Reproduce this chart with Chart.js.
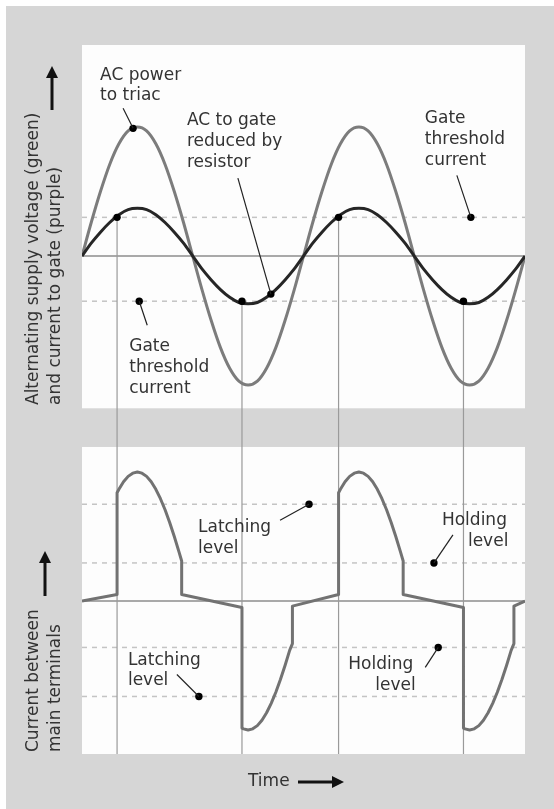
<!DOCTYPE html>
<html>
<head>
<meta charset="utf-8">
<script src="https://cdn.jsdelivr.net/npm/chart.js@4.4.1/dist/chart.umd.min.js"></script>
<style>
  html, body { margin: 0; padding: 0; background: #d6d6d6; }
  canvas { display: block; }
</style>
</head>
<body>
<canvas id="triacChart" width="554" height="809"></canvas>
<script>
// Eje de tiempo en grados (dos ciclos)
const degrees = [0, 15, 30, 45, 60, 75, 90, 105, 120, 135, 150, 165, 180, 195, 210, 225, 240, 255, 270, 285, 300, 315, 330, 345, 360,
    375, 390, 405, 420, 435, 450, 465, 480, 495, 510, 525, 540, 555, 570, 585, 600, 615, 630, 645, 660, 675, 690, 705, 720];

// Tensión de alimentación (curva gris) y corriente de puerta (curva oscura)
const supplyVoltage = [0, 26, 50, 71, 87, 97, 100, 97, 87, 71, 50, 26, 0, -26, -50, -71, -87, -97, -100, -97, -87, -71, -50, -26, 0,
    26, 50, 71, 87, 97, 100, 97, 87, 71, 50, 26, 0, -26, -50, -71, -87, -97, -100, -97, -87, -71, -50, -26, 0];
const gateCurrent = [0, 10, 18.5, 26, 32, 36, 37, 36, 32, 26, 18.5, 10, 0, -10, -18.5, -26, -32, -36, -37, -36, -32, -26, -18.5, -10, 0,
    10, 18.5, 26, 32, 36, 37, 36, 32, 26, 18.5, 10, 0, -10, -18.5, -26, -32, -36, -37, -36, -32, -26, -18.5, -10, 0];

// Corriente entre terminales principales
const terminalDeg = [0, 57, 57, 60, 67.5, 75, 82.5, 90, 97.5, 105, 112.5, 120, 127.5, 135, 142.5, 150, 157.5, 162, 162,
    260, 260, 262.5, 270, 277.5, 285, 292.5, 300, 307.5, 315, 322.5, 330, 337.5, 342, 342,
    417, 417, 420, 427.5, 435, 442.5, 450, 457.5, 465, 472.5, 480, 487.5, 495, 502.5, 510, 517.5, 522, 522,
    620, 620, 622.5, 630, 637.5, 645, 652.5, 660, 667.5, 675, 682.5, 690, 697.5, 702, 702, 720];
const terminalCurrent = [0, 5, 83.9, 86.6, 92.4, 96.6, 99.1, 100, 99.1, 96.6, 92.4, 86.6, 79.3, 70.7, 60.9, 50, 38.3, 31, 5,
    -5, -98.5, -99.1, -100, -99.1, -96.6, -92.4, -86.6, -79.3, -70.7, -60.9, -50, -38.3, -33, -4,
    5, 83.9, 86.6, 92.4, 96.6, 99.1, 100, 99.1, 96.6, 92.4, 86.6, 79.3, 70.7, 60.9, 50, 38.3, 31, 5,
    -5, -98.5, -99.1, -100, -99.1, -96.6, -92.4, -86.6, -79.3, -70.7, -60.9, -50, -38.3, -33, -4, 0];

// Niveles
const gateThreshold = [30, -35];
const terminalLevels = [75, 29.5, -36, -74];   // enganche, mantenimiento, mantenimiento, enganche

// Instantes de disparo (grados) y nivel de puerta correspondiente
const firingDeg = [57, 260, 417, 620];
const firingGate = [30, -35, 30, -35];

// Puntos marcados
const topDotDeg = [83, 307, 632, 93];
const topDotVal = [99, -29.5, 30, -35];
const botDotDeg = [369, 572, 190, 579];
const botDotVal = [75, 29.5, -74, -36];

// Rangos de los ejes (los dos paneles comparten el mismo lienzo)
const xRange = [0, 720];
const topRange = [-386, 163.6];
const botRange = [-118.6, 431];
const topPanelBottom = -118;
const botPanelTop = 119.4;

const toPoints = (xs, ys) => xs.map((x, i) => ({ x: x, y: ys[i] }));
const levelLine = v => [{ x: xRange[0], y: v }, { x: xRange[1], y: v }];

const FONT = '17px "DejaVu Sans"';
const TEXT = '#333333';

// Etiquetas: cada una cuelga de un punto marcado
const notes = [
    { axis: 'yT', i: 0, lines: [['AC power', -33, -48], ['to triac', -33, -28]], lead: [-10, -20] },
    { axis: 'yT', i: 1, lines: [['AC to gate', -84, -169], ['reduced by', -84, -148], ['resistor', -84, -127]], lead: [-33, -116] },
    { axis: 'yT', i: 2, lines: [['Gate', -46, -94], ['threshold', -46, -73], ['current', -46, -52]], lead: [-14, -42] },
    { axis: 'yT', i: 3, lines: [['Gate', -10, 50], ['threshold', -10, 71], ['current', -10, 92]], lead: [8, 24] },
    { axis: 'yB', i: 0, lines: [['Latching', -111, 28], ['level', -111, 49]], lead: [-29, 16] },
    { axis: 'yB', i: 1, lines: [['Holding', 8, -38], ['level', 34, -17]], lead: [19, -28] },
    { axis: 'yB', i: 2, lines: [['Latching', -71, -31], ['level', -71, -11]], lead: [-22, -22] },
    { axis: 'yB', i: 3, lines: [['Holding', -90, 22], ['level', -63, 43]], lead: [-13, 20] }
];

function arrow(ctx, x1, y1, x2, y2) {
    const a = Math.atan2(y2 - y1, x2 - x1);
    ctx.save();
    ctx.strokeStyle = '#111';
    ctx.fillStyle = '#111';
    ctx.lineWidth = 3;
    ctx.beginPath();
    ctx.moveTo(x1, y1);
    ctx.lineTo(x2 - 8 * Math.cos(a), y2 - 8 * Math.sin(a));
    ctx.stroke();
    ctx.translate(x2, y2);
    ctx.rotate(a);
    ctx.beginPath();
    ctx.moveTo(0, 0);
    ctx.lineTo(-12, -6);
    ctx.lineTo(-12, 6);
    ctx.closePath();
    ctx.fill();
    ctx.restore();
}

const panels = {
    id: 'panels',
    beforeDraw(chart) {
        const ctx = chart.ctx, area = chart.chartArea;
        ctx.save();
        ctx.fillStyle = '#ffffff';
        ctx.fillRect(0, 0, chart.width, chart.height);
        ctx.fillStyle = '#d6d6d6';
        ctx.fillRect(6, 6, chart.width - 6, chart.height - 6);
        ctx.fillStyle = '#fdfdfd';
        const tb = chart.scales.yT.getPixelForValue(topPanelBottom);
        const bt = chart.scales.yB.getPixelForValue(botPanelTop);
        ctx.fillRect(area.left, area.top, area.right - area.left, tb - area.top);
        ctx.fillRect(area.left, bt, area.right - area.left, area.bottom - bt);
        ctx.restore();
    },
    afterDraw(chart) {
        const ctx = chart.ctx, x = chart.scales.x;
        ctx.save();
        ctx.font = FONT;
        ctx.fillStyle = TEXT;
        ctx.strokeStyle = '#222';
        ctx.lineWidth = 1.2;
        notes.forEach(n => {
            const deg = n.axis === 'yT' ? topDotDeg[n.i] : botDotDeg[n.i];
            const val = n.axis === 'yT' ? topDotVal[n.i] : botDotVal[n.i];
            const px = x.getPixelForValue(deg);
            const py = chart.scales[n.axis].getPixelForValue(val);
            n.lines.forEach(l => ctx.fillText(l[0], px + l[1], py + l[2]));
            ctx.beginPath();
            ctx.moveTo(px + n.lead[0], py + n.lead[1]);
            ctx.lineTo(px, py);
            ctx.stroke();
        });

        // títulos verticales
        const vtext = (t, cx, by) => {
            ctx.save();
            ctx.translate(cx, by);
            ctx.rotate(-Math.PI / 2);
            ctx.textAlign = 'left';
            ctx.textBaseline = 'middle';
            ctx.fillText(t, 0, 0);
            ctx.restore();
        };
        vtext('Alternating supply voltage (green)', 34, 405);
        vtext('and current to gate (purple)', 56, 405);
        vtext('Current between', 34, 752);
        vtext('main terminals', 56, 752);

        ctx.textBaseline = 'middle';
        ctx.fillText('Time', 248, 782);
        ctx.restore();

        arrow(ctx, 52, 110, 52, 66);
        arrow(ctx, 45, 596, 45, 551);
        arrow(ctx, 298, 782, 344, 782);
    }
};

const datasets = [];
gateThreshold.forEach(v => datasets.push({ yAxisID: 'yT', data: levelLine(v), borderColor: '#c4c4c4', borderWidth: 1.5, borderDash: [5, 5], order: 6 }));
terminalLevels.forEach(v => datasets.push({ yAxisID: 'yB', data: levelLine(v), borderColor: '#c4c4c4', borderWidth: 1.5, borderDash: [5, 5], order: 6 }));
datasets.push({ yAxisID: 'yT', data: levelLine(0), borderColor: '#8c8c8c', borderWidth: 1.6, order: 5 });
datasets.push({ yAxisID: 'yB', data: levelLine(0), borderColor: '#8c8c8c', borderWidth: 1.6, order: 5 });
firingDeg.forEach((d, i) => datasets.push({
    yAxisID: 'yT', data: [{ x: d, y: firingGate[i] }, { x: d, y: topRange[0] }],
    borderColor: '#9a9a9a', borderWidth: 1.2, order: 4
}));
datasets.push({ label: 'Supply voltage', yAxisID: 'yT', data: toPoints(degrees, supplyVoltage), borderColor: '#7c7c7c', borderWidth: 3, cubicInterpolationMode: 'monotone', order: 3 });
datasets.push({ label: 'Gate current', yAxisID: 'yT', data: toPoints(degrees, gateCurrent), borderColor: '#262626', borderWidth: 3, cubicInterpolationMode: 'monotone', order: 2 });
datasets.push({ label: 'Main terminal current', yAxisID: 'yB', data: toPoints(terminalDeg, terminalCurrent), borderColor: '#727272', borderWidth: 3, borderJoinStyle: 'round', tension: 0, order: 3 });
datasets.push({ yAxisID: 'yT', data: toPoints(topDotDeg, topDotVal).concat(toPoints(firingDeg, firingGate)), showLine: false, pointRadius: 3.7, pointBackgroundColor: '#000', pointBorderWidth: 0, order: 1 });
datasets.push({ yAxisID: 'yB', data: toPoints(botDotDeg, botDotVal), showLine: false, pointRadius: 3.7, pointBackgroundColor: '#000', pointBorderWidth: 0, order: 1 });

datasets.forEach(d => {
    if (d.pointRadius === undefined) d.pointRadius = 0;
    d.fill = false;
});

new Chart(document.getElementById('triacChart'), {
    type: 'line',
    data: { datasets: datasets },
    options: {
        responsive: false,
        devicePixelRatio: 1,
        animation: false,
        layout: { padding: { left: 82, right: 29, top: 45, bottom: 55 } },
        plugins: { legend: { display: false }, tooltip: { enabled: false } },
        scales: {
            x: { type: 'linear', min: xRange[0], max: xRange[1], display: false },
            yT: { type: 'linear', min: topRange[0], max: topRange[1], display: false },
            yB: { type: 'linear', min: botRange[0], max: botRange[1], display: false }
        }
    },
    plugins: [panels]
});
</script>
</body>
</html>
